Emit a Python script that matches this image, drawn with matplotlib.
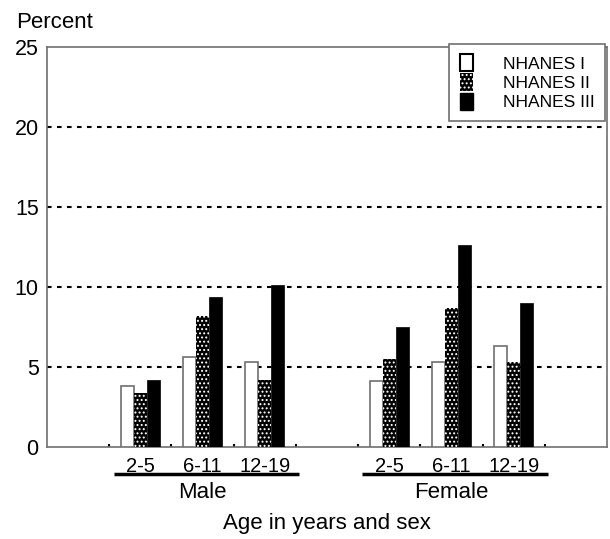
import numpy as np
import matplotlib.pyplot as plt
from matplotlib.patches import Patch

plt.rcParams['font.family'] = ['Liberation Sans', 'DejaVu Sans']
plt.rcParams['hatch.linewidth'] = 0.9

# data
ages = ['2-5', '6-11', '12-19']
sexes = ['Male', 'Female']
surveys = ['NHANES I', 'NHANES II', 'NHANES III']
male = {'NHANES I': [3.8, 5.6, 5.3],
        'NHANES II': [3.4, 8.2, 4.2],
        'NHANES III': [4.2, 9.4, 10.1]}
female = {'NHANES I': [4.1, 5.3, 6.3],
          'NHANES II': [5.5, 8.7, 5.3],
          'NHANES III': [7.5, 12.6, 9.0]}

male_pos = np.array([1.5, 2.5, 3.5])
female_pos = np.array([5.5, 6.5, 7.5])
w = 0.21
styles = {'NHANES I': dict(facecolor='white', edgecolor='#707070', linewidth=1.2),
          'NHANES II': dict(facecolor='black', edgecolor='white', hatch='....', linewidth=0),
          'NHANES III': dict(facecolor='black', edgecolor='black', linewidth=0.5)}

fig = plt.figure(figsize=(6.1, 5.39), dpi=100)
ax = fig.add_axes([47 / 610, 1 - 447 / 539, 560 / 610, 400 / 539])

for i, s in enumerate(surveys):
    off = (i - 1) * w
    ax.bar(male_pos + off, male[s], w, zorder=3, **styles[s])
    ax.bar(female_pos + off, female[s], w, zorder=3, **styles[s])

ax.set_xlim(0, 9)
ax.set_ylim(0, 25)
ax.set_yticks([0, 5, 10, 15, 20, 25])
ax.set_yticklabels(['0', '5', '10', '15', '20', '25'])
for y in [5, 10, 15, 20]:
    ax.axhline(y, color='black', lw=1.5, ls=(0, (2.2, 2.6)), zorder=1)

ax.set_xticks(range(1, 9), minor=True)
ax.set_xticks(np.concatenate([male_pos, female_pos]))
ax.set_xticklabels(ages + ages)
ax.tick_params(axis='x', which='major', length=0, pad=7.5, labelsize=14.5)
ax.tick_params(axis='x', which='minor', length=2.5, width=1.5, direction='in', color='black')
ax.tick_params(axis='y', length=0, pad=6, labelsize=15.5)

for sp in ax.spines.values():
    sp.set_color('#707070')
    sp.set_linewidth(1.2)

# group underlines and labels
for pos, name in [(male_pos, sexes[0]), (female_pos, sexes[1])]:
    ax.plot([pos[0] - 0.43, pos[-1] + 0.55], [-0.068, -0.068], color='black', lw=2.5,
            transform=ax.get_xaxis_transform(), clip_on=False, solid_capstyle='butt')
    ax.text(pos.mean(), -0.115, name, transform=ax.get_xaxis_transform(),
            ha='center', va='center', fontsize=16)

fig.text(0.5 * (47 + 607) / 610, 1 - 523 / 539, 'Age in years and sex',
         ha='center', va='center', fontsize=16)
fig.text(16 / 610, 1 - 22 / 539, 'Percent', ha='left', va='center', fontsize=16)

handles = [Patch(label='NHANES I', facecolor='white', edgecolor='black', linewidth=1.5),
           Patch(label='NHANES II', **styles['NHANES II']),
           Patch(label='NHANES III', facecolor='black', edgecolor='black')]
leg = ax.legend(handles=handles, loc='upper right', bbox_to_anchor=(0.997, 1.008),
                borderaxespad=0, fancybox=False, fontsize=12.5, handlelength=0.75,
                handleheight=1.15, handletextpad=1.75, labelspacing=0.1,
                borderpad=0.6, framealpha=1)
leg.get_frame().set_edgecolor('#707070')
leg.get_frame().set_linewidth(1.2)
leg.set_zorder(5)

fig.savefig('out.png', dpi=100)
